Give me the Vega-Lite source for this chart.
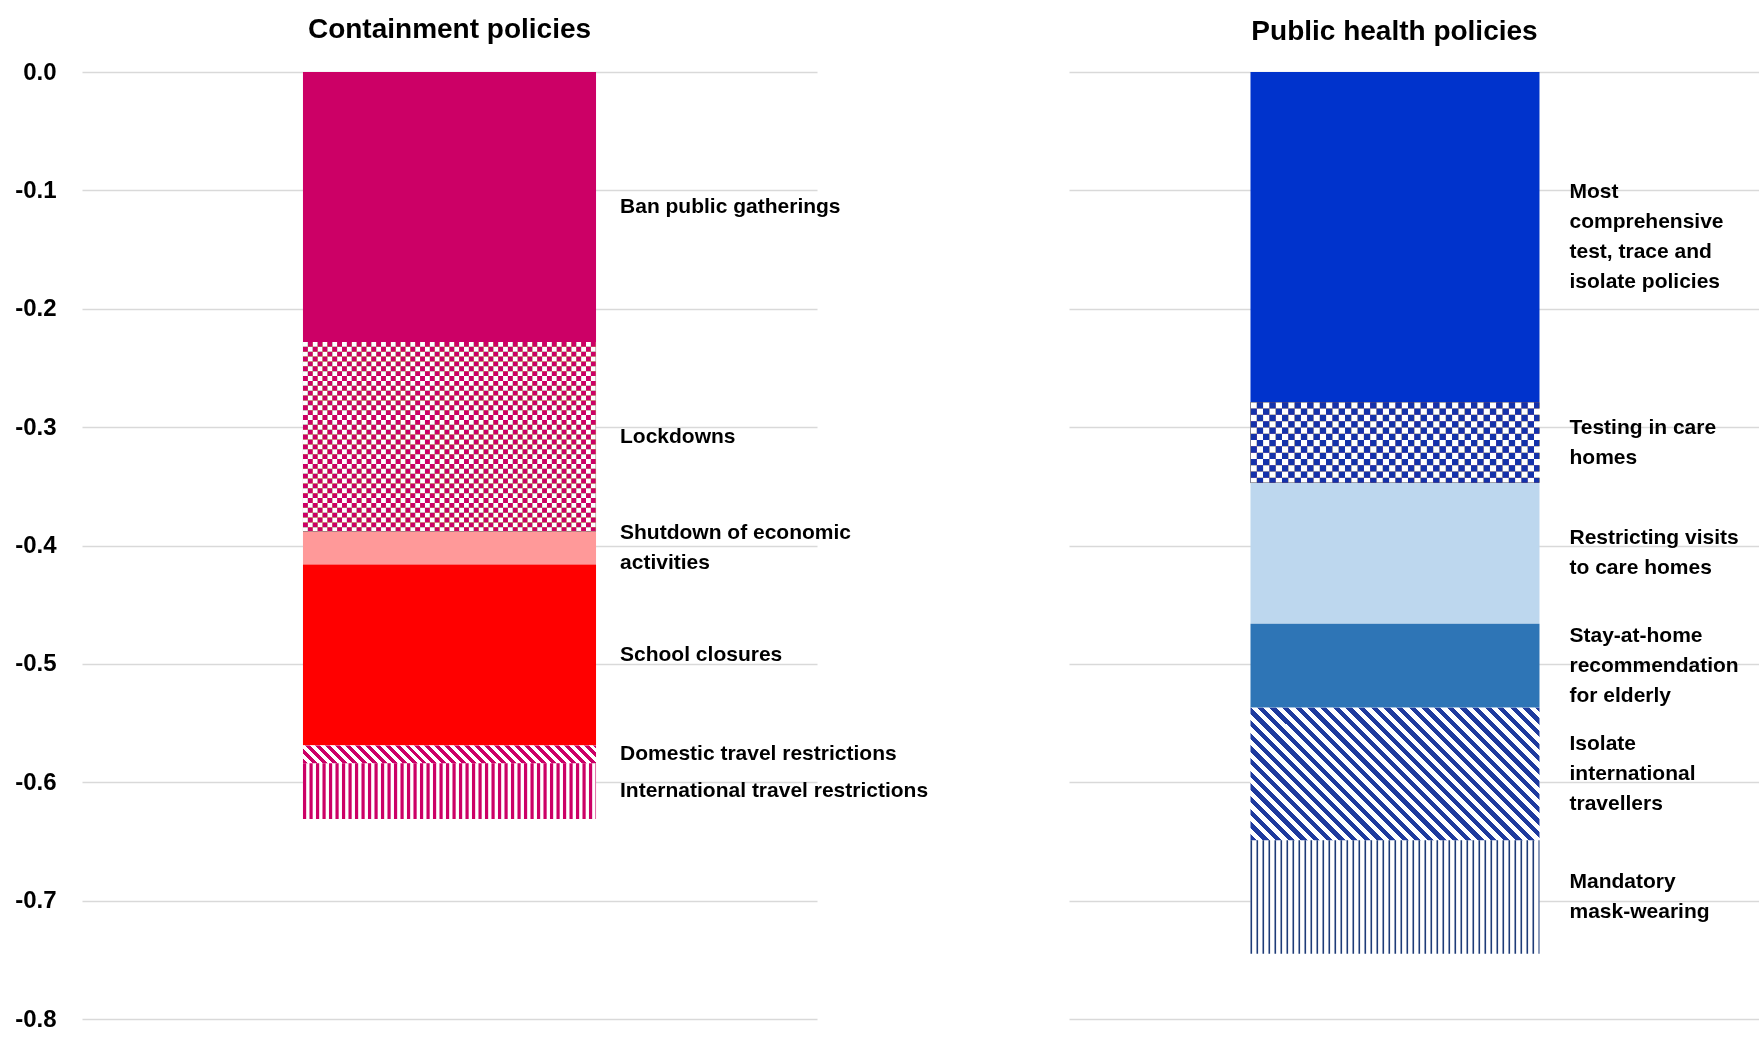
{
"$schema":"https://vega.github.io/schema/vega-lite/v6.json",
"background":"white",
"padding":{"left":14,"top":16,"right":0,"bottom":0},
"bounds":"flush",
"spacing":252,
"config":{"view":{"stroke":null},"font":"Liberation Sans"},
"hconcat":[
{
"width":735,"height":947,
"title":{"text":"Containment policies","frame":"group","anchor":"middle","offset":15.7,"font":"Liberation Sans","fontSize":28,"fontWeight":"bold","color":"#000"},
"data":{"values":[
{"panel":"Containment policies","policy":"Ban public gatherings","label":"Ban public gatherings","value":-0.228,"order":1},
{"panel":"Containment policies","policy":"Lockdowns","label":"Lockdowns","value":-0.160,"order":2},
{"panel":"Containment policies","policy":"Shutdown of economic activities","label":"Shutdown of economic\nactivities","value":-0.028,"order":3},
{"panel":"Containment policies","policy":"School closures","label":"School closures","value":-0.153,"order":4},
{"panel":"Containment policies","policy":"Domestic travel restrictions","label":"Domestic travel restrictions","value":-0.015,"order":5},
{"panel":"Containment policies","policy":"International travel restrictions","label":"International travel restrictions","value":-0.047,"order":6}
]},
"transform":[
{"stack":"value","groupby":["panel"],"sort":[{"field":"order","order":"ascending"}],"as":["v0","v1"]},
{"calculate":"(datum.v0+datum.v1)/2","as":"mid"},
{"calculate":"length(split(datum.label, '\\n'))","as":"nlines"}
],
"encoding":{
"x":{"field":"panel","type":"nominal","axis":null,"scale":{"paddingInner":0,"paddingOuter":0.754}},
"y":{"field":"v0","type":"quantitative","scale":{"domain":[-0.8,0],"nice":false,"zero":false},
"axis":{"title":null,"values":[0,-0.1,-0.2,-0.3,-0.4,-0.5,-0.6,-0.7,-0.8],"format":".1f","labelExpr":"replace(datum.label, '−', '-')","labelFont":"Liberation Sans","labelFontWeight":"bold","labelFontSize":24,"labelColor":"#000","labelPadding":26,"domain":false,"ticks":false,"grid":true,"gridColor":"#d9d9d9","gridWidth":1.5}}
},
"layer":[
{"mark":{"type":"bar"},"encoding":{"y2":{"field":"v1"},"fill":{"field":"policy","type":"nominal","legend":null,"scale":{"domain":["Ban public gatherings","Lockdowns","Shutdown of economic activities","School closures","Domestic travel restrictions","International travel restrictions","Most comprehensive test, trace and isolate policies","Testing in care homes","Restricting visits to care homes","Stay-at-home recommendation for elderly","Isolate international travellers","Mandatory mask-wearing"],"range":["#cc0066","#ffffff","#ff9999","#ff0000","#ffffff","#ffffff","#0033cc","#ffffff","#bdd7ee","#2e75b6","#ffffff","#ffffff"]}}}},
{"transform":[{"filter":"datum.policy==='Lockdowns'"}],"mark":{"type":"rule","stroke":"#000","strokeWidth":293,"strokeDash":[4.88,4.88]},"encoding":{"y2":{"field":"v1"}}},
{"transform":[{"filter":"datum.policy==='Lockdowns'"}],"mark":{"type":"rule","stroke":"#fff","strokeWidth":189.4,"strokeDash":[4.88,4.88],"blend":"difference"},"encoding":{"x":{"field":"panel","type":"nominal","bandPosition":0,"axis":null},"x2":{"field":"panel","bandPosition":1},"y":{"field":"mid","type":"quantitative"}}},
{"transform":[{"filter":"datum.policy==='Lockdowns'"}],"mark":{"type":"bar","fill":"#cc0066","blend":"lighten"},"encoding":{"y2":{"field":"v1"}}},
{"transform":[{"filter":"datum.policy==='Domestic travel restrictions'"}],"mark":{"type":"bar","fill":{"gradient":"linear","x1":0,"y1":1,"x2":1.0567,"y2":0.936,"stops":[
{"offset":0,"color":"#c06"},
{"offset":0.016,"color":"#c06"},{"offset":0.016,"color":"#fff"},
{"offset":0.032,"color":"#fff"},{"offset":0.032,"color":"#c06"},
{"offset":0.048,"color":"#c06"},{"offset":0.048,"color":"#fff"},
{"offset":0.064,"color":"#fff"},{"offset":0.064,"color":"#c06"},
{"offset":0.08,"color":"#c06"},{"offset":0.08,"color":"#fff"},
{"offset":0.096,"color":"#fff"},{"offset":0.096,"color":"#c06"},
{"offset":0.112,"color":"#c06"},{"offset":0.112,"color":"#fff"},
{"offset":0.128,"color":"#fff"},{"offset":0.128,"color":"#c06"},
{"offset":0.144,"color":"#c06"},{"offset":0.144,"color":"#fff"},
{"offset":0.16,"color":"#fff"},{"offset":0.16,"color":"#c06"},
{"offset":0.176,"color":"#c06"},{"offset":0.176,"color":"#fff"},
{"offset":0.192,"color":"#fff"},{"offset":0.192,"color":"#c06"},
{"offset":0.208,"color":"#c06"},{"offset":0.208,"color":"#fff"},
{"offset":0.224,"color":"#fff"},{"offset":0.224,"color":"#c06"},
{"offset":0.24,"color":"#c06"},{"offset":0.24,"color":"#fff"},
{"offset":0.256,"color":"#fff"},{"offset":0.256,"color":"#c06"},
{"offset":0.272,"color":"#c06"},{"offset":0.272,"color":"#fff"},
{"offset":0.288,"color":"#fff"},{"offset":0.288,"color":"#c06"},
{"offset":0.304,"color":"#c06"},{"offset":0.304,"color":"#fff"},
{"offset":0.32,"color":"#fff"},{"offset":0.32,"color":"#c06"},
{"offset":0.336,"color":"#c06"},{"offset":0.336,"color":"#fff"},
{"offset":0.352,"color":"#fff"},{"offset":0.352,"color":"#c06"},
{"offset":0.368,"color":"#c06"},{"offset":0.368,"color":"#fff"},
{"offset":0.384,"color":"#fff"},{"offset":0.384,"color":"#c06"},
{"offset":0.4,"color":"#c06"},{"offset":0.4,"color":"#fff"},
{"offset":0.416,"color":"#fff"},{"offset":0.416,"color":"#c06"},
{"offset":0.432,"color":"#c06"},{"offset":0.432,"color":"#fff"},
{"offset":0.448,"color":"#fff"},{"offset":0.448,"color":"#c06"},
{"offset":0.464,"color":"#c06"},{"offset":0.464,"color":"#fff"},
{"offset":0.48,"color":"#fff"},{"offset":0.48,"color":"#c06"},
{"offset":0.496,"color":"#c06"},{"offset":0.496,"color":"#fff"},
{"offset":0.512,"color":"#fff"},{"offset":0.512,"color":"#c06"},
{"offset":0.528,"color":"#c06"},{"offset":0.528,"color":"#fff"},
{"offset":0.544,"color":"#fff"},{"offset":0.544,"color":"#c06"},
{"offset":0.56,"color":"#c06"},{"offset":0.56,"color":"#fff"},
{"offset":0.576,"color":"#fff"},{"offset":0.576,"color":"#c06"},
{"offset":0.592,"color":"#c06"},{"offset":0.592,"color":"#fff"},
{"offset":0.608,"color":"#fff"},{"offset":0.608,"color":"#c06"},
{"offset":0.624,"color":"#c06"},{"offset":0.624,"color":"#fff"},
{"offset":0.64,"color":"#fff"},{"offset":0.64,"color":"#c06"},
{"offset":0.656,"color":"#c06"},{"offset":0.656,"color":"#fff"},
{"offset":0.672,"color":"#fff"},{"offset":0.672,"color":"#c06"},
{"offset":0.688,"color":"#c06"},{"offset":0.688,"color":"#fff"},
{"offset":0.704,"color":"#fff"},{"offset":0.704,"color":"#c06"},
{"offset":0.72,"color":"#c06"},{"offset":0.72,"color":"#fff"},
{"offset":0.736,"color":"#fff"},{"offset":0.736,"color":"#c06"},
{"offset":0.752,"color":"#c06"},{"offset":0.752,"color":"#fff"},
{"offset":0.768,"color":"#fff"},{"offset":0.768,"color":"#c06"},
{"offset":0.784,"color":"#c06"},{"offset":0.784,"color":"#fff"},
{"offset":0.8,"color":"#fff"},{"offset":0.8,"color":"#c06"},
{"offset":0.816,"color":"#c06"},{"offset":0.816,"color":"#fff"},
{"offset":0.832,"color":"#fff"},{"offset":0.832,"color":"#c06"},
{"offset":0.848,"color":"#c06"},{"offset":0.848,"color":"#fff"},
{"offset":0.864,"color":"#fff"},{"offset":0.864,"color":"#c06"},
{"offset":0.88,"color":"#c06"},{"offset":0.88,"color":"#fff"},
{"offset":0.896,"color":"#fff"},{"offset":0.896,"color":"#c06"},
{"offset":0.912,"color":"#c06"},{"offset":0.912,"color":"#fff"},
{"offset":0.928,"color":"#fff"},{"offset":0.928,"color":"#c06"},
{"offset":0.944,"color":"#c06"},{"offset":0.944,"color":"#fff"},
{"offset":0.96,"color":"#fff"},{"offset":0.96,"color":"#c06"},
{"offset":0.976,"color":"#c06"},{"offset":0.976,"color":"#fff"},
{"offset":0.992,"color":"#fff"},{"offset":0.992,"color":"#c06"},
{"offset":1,"color":"#c06"}
]}},"encoding":{"y2":{"field":"v1"}}},
{"transform":[{"filter":"datum.policy==='International travel restrictions'"}],"mark":{"type":"rule","stroke":"#c06","strokeWidth":55.6,"strokeDash":[3.2,3.3]},"encoding":{"x":{"field":"panel","type":"nominal","bandPosition":0,"axis":null},"x2":{"field":"panel","bandPosition":1},"y":{"field":"mid","type":"quantitative"}}},
{"transform":[{"filter":"datum.nlines == 1"}],"mark":{"type":"text","align":"left","baseline":"middle","dx":24,"dy":0,"font":"Liberation Sans","fontWeight":"bold","fontSize":21,"lineHeight":30,"lineBreak":"\n","color":"#000"},"encoding":{"x":{"field":"panel","type":"nominal","bandPosition":1,"axis":null},"y":{"field":"mid","type":"quantitative"},"text":{"field":"label"}}},
{"transform":[{"filter":"datum.nlines == 2"}],"mark":{"type":"text","align":"left","baseline":"middle","dx":24,"dy":-15,"font":"Liberation Sans","fontWeight":"bold","fontSize":21,"lineHeight":30,"lineBreak":"\n","color":"#000"},"encoding":{"x":{"field":"panel","type":"nominal","bandPosition":1,"axis":null},"y":{"field":"mid","type":"quantitative"},"text":{"field":"label"}}}
]
},
{
"width":690,"height":947,
"title":{"text":"Public health policies","frame":"group","anchor":"middle","offset":25.8,"dx":-19.5,"font":"Liberation Sans","fontSize":28,"fontWeight":"bold","color":"#000"},
"data":{"values":[
{"panel":"Public health policies","policy":"Most comprehensive test, trace and isolate policies","label":"Most\ncomprehensive\ntest, trace and\nisolate policies","value":-0.279,"order":1},
{"panel":"Public health policies","policy":"Testing in care homes","label":"Testing in care\nhomes","value":-0.068,"order":2},
{"panel":"Public health policies","policy":"Restricting visits to care homes","label":"Restricting visits\nto care homes","value":-0.119,"order":3},
{"panel":"Public health policies","policy":"Stay-at-home recommendation for elderly","label":"Stay-at-home\nrecommendation\nfor elderly","value":-0.071,"order":4},
{"panel":"Public health policies","policy":"Isolate international travellers","label":"Isolate\ninternational\ntravellers","value":-0.112,"order":5},
{"panel":"Public health policies","policy":"Mandatory mask-wearing","label":"Mandatory\nmask-wearing","value":-0.096,"order":6}
]},
"transform":[
{"stack":"value","groupby":["panel"],"sort":[{"field":"order","order":"ascending"}],"as":["v0","v1"]},
{"calculate":"(datum.v0+datum.v1)/2","as":"mid"},
{"calculate":"length(split(datum.label, '\\n'))","as":"nlines"}
],
"encoding":{
"x":{"field":"panel","type":"nominal","axis":null,"scale":{"paddingInner":0,"paddingOuter":0.6938,"align":0.4526}},
"y":{"field":"v0","type":"quantitative","scale":{"domain":[-0.8,0],"nice":false,"zero":false},
"axis":{"title":null,"values":[0,-0.1,-0.2,-0.3,-0.4,-0.5,-0.6,-0.7,-0.8],"labels":false,"domain":false,"ticks":false,"grid":true,"gridColor":"#d9d9d9","gridWidth":1.5}}
},
"layer":[
{"mark":{"type":"bar"},"encoding":{"y2":{"field":"v1"},"fill":{"field":"policy","type":"nominal","legend":null,"scale":{"domain":["Ban public gatherings","Lockdowns","Shutdown of economic activities","School closures","Domestic travel restrictions","International travel restrictions","Most comprehensive test, trace and isolate policies","Testing in care homes","Restricting visits to care homes","Stay-at-home recommendation for elderly","Isolate international travellers","Mandatory mask-wearing"],"range":["#cc0066","#ffffff","#ff9999","#ff0000","#ffffff","#ffffff","#0033cc","#ffffff","#bdd7ee","#2e75b6","#ffffff","#ffffff"]}}}},
{"transform":[{"filter":"datum.policy==='Testing in care homes'"}],"mark":{"type":"rule","stroke":"#000","strokeWidth":289,"strokeDash":[6.3,6.3]},"encoding":{"y2":{"field":"v1"}}},
{"transform":[{"filter":"datum.policy==='Testing in care homes'"}],"mark":{"type":"rule","stroke":"#fff","strokeWidth":80.5,"strokeDash":[6.3,6.3],"blend":"difference"},"encoding":{"x":{"field":"panel","type":"nominal","bandPosition":0,"axis":null},"x2":{"field":"panel","bandPosition":1},"y":{"field":"mid","type":"quantitative"}}},
{"transform":[{"filter":"datum.policy==='Testing in care homes'"}],"mark":{"type":"bar","fill":"#1432aa","blend":"lighten"},"encoding":{"y2":{"field":"v1"}}},
{"transform":[{"filter":"datum.policy==='Isolate international travellers'"}],"mark":{"type":"bar","fill":{"gradient":"linear","x1":0,"y1":1,"x2":1.2051,"y2":0.4471,"stops":[
{"offset":0,"color":"#1e3a9e"},
{"offset":0.015,"color":"#1e3a9e"},{"offset":0.015,"color":"#fff"},
{"offset":0.03,"color":"#fff"},{"offset":0.03,"color":"#1e3a9e"},
{"offset":0.045,"color":"#1e3a9e"},{"offset":0.045,"color":"#fff"},
{"offset":0.06,"color":"#fff"},{"offset":0.06,"color":"#1e3a9e"},
{"offset":0.075,"color":"#1e3a9e"},{"offset":0.075,"color":"#fff"},
{"offset":0.09,"color":"#fff"},{"offset":0.09,"color":"#1e3a9e"},
{"offset":0.105,"color":"#1e3a9e"},{"offset":0.105,"color":"#fff"},
{"offset":0.12,"color":"#fff"},{"offset":0.12,"color":"#1e3a9e"},
{"offset":0.135,"color":"#1e3a9e"},{"offset":0.135,"color":"#fff"},
{"offset":0.15,"color":"#fff"},{"offset":0.15,"color":"#1e3a9e"},
{"offset":0.165,"color":"#1e3a9e"},{"offset":0.165,"color":"#fff"},
{"offset":0.18,"color":"#fff"},{"offset":0.18,"color":"#1e3a9e"},
{"offset":0.195,"color":"#1e3a9e"},{"offset":0.195,"color":"#fff"},
{"offset":0.21,"color":"#fff"},{"offset":0.21,"color":"#1e3a9e"},
{"offset":0.225,"color":"#1e3a9e"},{"offset":0.225,"color":"#fff"},
{"offset":0.24,"color":"#fff"},{"offset":0.24,"color":"#1e3a9e"},
{"offset":0.255,"color":"#1e3a9e"},{"offset":0.255,"color":"#fff"},
{"offset":0.27,"color":"#fff"},{"offset":0.27,"color":"#1e3a9e"},
{"offset":0.285,"color":"#1e3a9e"},{"offset":0.285,"color":"#fff"},
{"offset":0.3,"color":"#fff"},{"offset":0.3,"color":"#1e3a9e"},
{"offset":0.315,"color":"#1e3a9e"},{"offset":0.315,"color":"#fff"},
{"offset":0.33,"color":"#fff"},{"offset":0.33,"color":"#1e3a9e"},
{"offset":0.345,"color":"#1e3a9e"},{"offset":0.345,"color":"#fff"},
{"offset":0.36,"color":"#fff"},{"offset":0.36,"color":"#1e3a9e"},
{"offset":0.375,"color":"#1e3a9e"},{"offset":0.375,"color":"#fff"},
{"offset":0.39,"color":"#fff"},{"offset":0.39,"color":"#1e3a9e"},
{"offset":0.405,"color":"#1e3a9e"},{"offset":0.405,"color":"#fff"},
{"offset":0.42,"color":"#fff"},{"offset":0.42,"color":"#1e3a9e"},
{"offset":0.435,"color":"#1e3a9e"},{"offset":0.435,"color":"#fff"},
{"offset":0.45,"color":"#fff"},{"offset":0.45,"color":"#1e3a9e"},
{"offset":0.465,"color":"#1e3a9e"},{"offset":0.465,"color":"#fff"},
{"offset":0.48,"color":"#fff"},{"offset":0.48,"color":"#1e3a9e"},
{"offset":0.495,"color":"#1e3a9e"},{"offset":0.495,"color":"#fff"},
{"offset":0.51,"color":"#fff"},{"offset":0.51,"color":"#1e3a9e"},
{"offset":0.525,"color":"#1e3a9e"},{"offset":0.525,"color":"#fff"},
{"offset":0.54,"color":"#fff"},{"offset":0.54,"color":"#1e3a9e"},
{"offset":0.555,"color":"#1e3a9e"},{"offset":0.555,"color":"#fff"},
{"offset":0.57,"color":"#fff"},{"offset":0.57,"color":"#1e3a9e"},
{"offset":0.585,"color":"#1e3a9e"},{"offset":0.585,"color":"#fff"},
{"offset":0.6,"color":"#fff"},{"offset":0.6,"color":"#1e3a9e"},
{"offset":0.615,"color":"#1e3a9e"},{"offset":0.615,"color":"#fff"},
{"offset":0.63,"color":"#fff"},{"offset":0.63,"color":"#1e3a9e"},
{"offset":0.645,"color":"#1e3a9e"},{"offset":0.645,"color":"#fff"},
{"offset":0.66,"color":"#fff"},{"offset":0.66,"color":"#1e3a9e"},
{"offset":0.675,"color":"#1e3a9e"},{"offset":0.675,"color":"#fff"},
{"offset":0.69,"color":"#fff"},{"offset":0.69,"color":"#1e3a9e"},
{"offset":0.705,"color":"#1e3a9e"},{"offset":0.705,"color":"#fff"},
{"offset":0.72,"color":"#fff"},{"offset":0.72,"color":"#1e3a9e"},
{"offset":0.735,"color":"#1e3a9e"},{"offset":0.735,"color":"#fff"},
{"offset":0.75,"color":"#fff"},{"offset":0.75,"color":"#1e3a9e"},
{"offset":0.765,"color":"#1e3a9e"},{"offset":0.765,"color":"#fff"},
{"offset":0.78,"color":"#fff"},{"offset":0.78,"color":"#1e3a9e"},
{"offset":0.795,"color":"#1e3a9e"},{"offset":0.795,"color":"#fff"},
{"offset":0.81,"color":"#fff"},{"offset":0.81,"color":"#1e3a9e"},
{"offset":0.825,"color":"#1e3a9e"},{"offset":0.825,"color":"#fff"},
{"offset":0.84,"color":"#fff"},{"offset":0.84,"color":"#1e3a9e"},
{"offset":0.855,"color":"#1e3a9e"},{"offset":0.855,"color":"#fff"},
{"offset":0.87,"color":"#fff"},{"offset":0.87,"color":"#1e3a9e"},
{"offset":0.885,"color":"#1e3a9e"},{"offset":0.885,"color":"#fff"},
{"offset":0.9,"color":"#fff"},{"offset":0.9,"color":"#1e3a9e"},
{"offset":0.915,"color":"#1e3a9e"},{"offset":0.915,"color":"#fff"},
{"offset":0.93,"color":"#fff"},{"offset":0.93,"color":"#1e3a9e"},
{"offset":0.945,"color":"#1e3a9e"},{"offset":0.945,"color":"#fff"},
{"offset":0.96,"color":"#fff"},{"offset":0.96,"color":"#1e3a9e"},
{"offset":0.975,"color":"#1e3a9e"},{"offset":0.975,"color":"#fff"},
{"offset":0.99,"color":"#fff"},{"offset":0.99,"color":"#1e3a9e"},
{"offset":1,"color":"#1e3a9e"}
]}},"encoding":{"y2":{"field":"v1"}}},
{"transform":[{"filter":"datum.policy==='Mandatory mask-wearing'"}],"mark":{"type":"rule","stroke":"#1f3c78","strokeWidth":113.6,"strokeDash":[1.6,4.4]},"encoding":{"x":{"field":"panel","type":"nominal","bandPosition":0,"axis":null},"x2":{"field":"panel","bandPosition":1},"y":{"field":"mid","type":"quantitative"}}},
{"transform":[{"filter":"datum.nlines == 2"}],"mark":{"type":"text","align":"left","baseline":"middle","dx":30,"dy":-15,"font":"Liberation Sans","fontWeight":"bold","fontSize":21,"lineHeight":30,"lineBreak":"\n","color":"#000"},"encoding":{"x":{"field":"panel","type":"nominal","bandPosition":1,"axis":null},"y":{"field":"mid","type":"quantitative"},"text":{"field":"label"}}},
{"transform":[{"filter":"datum.nlines == 3"}],"mark":{"type":"text","align":"left","baseline":"middle","dx":30,"dy":-30,"font":"Liberation Sans","fontWeight":"bold","fontSize":21,"lineHeight":30,"lineBreak":"\n","color":"#000"},"encoding":{"x":{"field":"panel","type":"nominal","bandPosition":1,"axis":null},"y":{"field":"mid","type":"quantitative"},"text":{"field":"label"}}},
{"transform":[{"filter":"datum.nlines == 4"}],"mark":{"type":"text","align":"left","baseline":"middle","dx":30,"dy":-45,"font":"Liberation Sans","fontWeight":"bold","fontSize":21,"lineHeight":30,"lineBreak":"\n","color":"#000"},"encoding":{"x":{"field":"panel","type":"nominal","bandPosition":1,"axis":null},"y":{"field":"mid","type":"quantitative"},"text":{"field":"label"}}}
]
}
]
}
